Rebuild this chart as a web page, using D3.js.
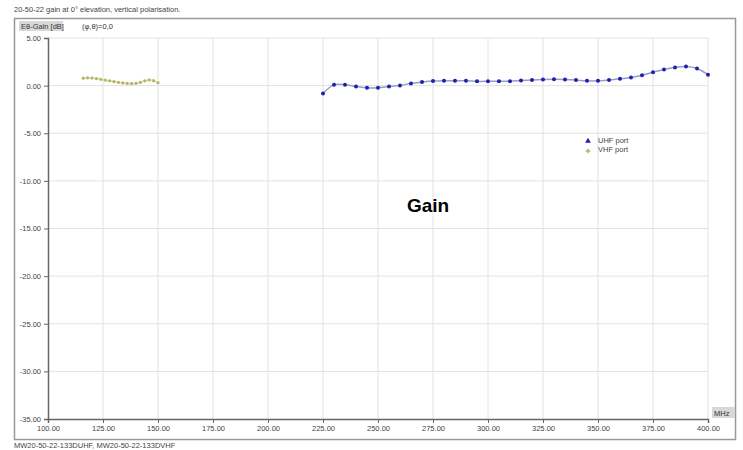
<!DOCTYPE html>
<html>
<head>
<meta charset="utf-8">
<script src="https://cdn.jsdelivr.net/npm/d3@7"></script>
<style>
  body { margin: 0; background: #fff; }
  svg { font-family: "Liberation Sans", Arial, sans-serif; }
</style>
</head>
<body>
<svg id="chart" width="743" height="450"></svg>
<script>
// UHF port, 5 MHz steps
const uhfFreq = [225, 230, 235, 240, 245, 250, 255, 260, 265, 270, 275, 280, 285, 290, 295, 300, 305, 310,
  315, 320, 325, 330, 335, 340, 345, 350, 355, 360, 365, 370, 375, 380, 385, 390, 395, 400];
const uhfGain = [-0.82, 0.08, 0.08, -0.09, -0.23, -0.23, -0.09, 0.02, 0.23, 0.37, 0.48, 0.52, 0.52, 0.52, 0.45, 0.45,
  0.47, 0.47, 0.55, 0.58, 0.63, 0.66, 0.64, 0.58, 0.5, 0.5, 0.6, 0.72, 0.85, 1.1, 1.4, 1.7, 1.9, 2.0, 1.8, 1.15];

// VHF port, 2 MHz steps
const vhfFreq = [116, 118, 120, 122, 124, 126, 128, 130, 132, 134, 136, 138, 140, 142, 144, 146, 148, 150];
const vhfGain = [0.78, 0.82, 0.8, 0.74, 0.66, 0.58, 0.5, 0.42, 0.34, 0.28, 0.23, 0.21, 0.24, 0.34, 0.5, 0.6, 0.52, 0.3];

const xTicks = [100, 125, 150, 175, 200, 225, 250, 275, 300, 325, 350, 375, 400];
const yTicks = [5, 0, -5, -10, -15, -20, -25, -30, -35];

const svg = d3.select('#chart');
const plotL = 48, plotR = 708, plotT = 38, plotB = 419;

const x = d3.scaleLinear().domain([100, 400]).range([plotL, plotR]);
const y = d3.scaleLinear().domain([-35, 5]).range([plotB, plotT]);

// title and frame
svg.append('text').attr('x', 14).attr('y', 12).attr('font-size', 7.5).attr('fill', '#444')
  .text('20-50-22 gain at 0\u00b0 elevation, vertical polarisation.');
svg.append('rect').attr('x', 14.5).attr('y', 18.5).attr('width', 721).attr('height', 421)
  .attr('fill', 'none').attr('stroke', '#999').attr('stroke-width', 1.5);
svg.append('text').attr('x', 14).attr('y', 448).attr('font-size', 7.5).attr('fill', '#444')
  .text('MW20-50-22-133DUHF, MW20-50-22-133DVHF');

// header labels
svg.append('rect').attr('x', 19).attr('y', 21).attr('width', 44).attr('height', 10).attr('fill', '#d8d8d8');
svg.append('text').attr('x', 21).attr('y', 29).attr('font-size', 7.5).attr('fill', '#333').text('E\u03b8-Gain [dB]');
svg.append('text').attr('x', 82).attr('y', 29).attr('font-size', 7.5).attr('fill', '#333').text('(\u03c6,\u03b8)=0,0');

// grid
svg.append('g').selectAll('line').data(xTicks.slice(1)).enter().append('line')
  .attr('x1', d => x(d)).attr('x2', d => x(d)).attr('y1', plotT).attr('y2', plotB)
  .attr('stroke', '#e2e2e2');
svg.append('g').selectAll('line').data(yTicks.slice(0, -1)).enter().append('line')
  .attr('x1', plotL).attr('x2', plotR).attr('y1', d => y(d)).attr('y2', d => y(d))
  .attr('stroke', '#e2e2e2');

// axes
const xAxis = svg.append('g').attr('transform', `translate(0,${plotB})`)
  .call(d3.axisBottom(x).tickValues(xTicks).tickFormat(d3.format('.2f')).tickSize(4).tickPadding(3));
const yAxis = svg.append('g').attr('transform', `translate(${plotL},0)`)
  .call(d3.axisLeft(y).tickValues(yTicks).tickFormat(d3.format('.2f')).tickSize(4).tickPadding(3));
[xAxis, yAxis].forEach(a => {
  a.select('.domain').attr('stroke', '#666').attr('stroke-width', 1.5);
  a.selectAll('.tick line').attr('stroke', '#666');
  a.selectAll('text').attr('font-size', 7.5).attr('fill', '#444').attr('font-family', '"Liberation Sans", Arial, sans-serif');
});
yAxis.selectAll('text').text(d => d3.format('.2f')(d).replace('\u2212', '-'));

svg.append('rect').attr('x', 712).attr('y', 407).attr('width', 23).attr('height', 11).attr('fill', '#d8d8d8');
svg.append('text').attr('x', 714).attr('y', 415.5).attr('font-size', 7.5).attr('fill', '#333').text('MHz');

// series
const line = d3.line().curve(d3.curveCatmullRom).x(d => x(d[0])).y(d => y(d[1]));
const uhf = uhfFreq.map((f, i) => [f, uhfGain[i]]);
const vhf = vhfFreq.map((f, i) => [f, vhfGain[i]]);

svg.append('path').datum(uhf).attr('d', line).attr('fill', 'none').attr('stroke', '#9a9ac8').attr('stroke-width', 1.5);
svg.append('g').selectAll('circle').data(uhf).enter().append('circle')
  .attr('cx', d => x(d[0])).attr('cy', d => y(d[1])).attr('r', 2).attr('fill', '#1f1fb0');

svg.append('path').datum(vhf).attr('d', line).attr('fill', 'none').attr('stroke', '#e4e2a0').attr('stroke-width', 1.5);
svg.append('g').selectAll('circle').data(vhf).enter().append('circle')
  .attr('cx', d => x(d[0])).attr('cy', d => y(d[1])).attr('r', 1.6).attr('fill', '#b4b46a');

// legend
const lg = svg.append('g').attr('transform', 'translate(588,140)');
lg.append('path').attr('d', d3.symbol(d3.symbolTriangle, 14)()).attr('fill', '#1f1fb0').attr('transform', 'translate(0,1)');
lg.append('text').attr('x', 10).attr('y', 2.5).attr('font-size', 7.5).attr('fill', '#444').text('UHF port');
lg.append('path').attr('d', d3.symbol(d3.symbolCross, 12)()).attr('fill', '#b4b46a').attr('transform', 'translate(0,11)');
lg.append('text').attr('x', 10).attr('y', 11.5).attr('font-size', 7.5).attr('fill', '#444').text('VHF port');

svg.append('text').attr('x', 428).attr('y', 212).attr('text-anchor', 'middle')
  .attr('font-size', 19).attr('font-weight', 'bold').attr('fill', '#000').text('Gain');
</script>
</body>
</html>
